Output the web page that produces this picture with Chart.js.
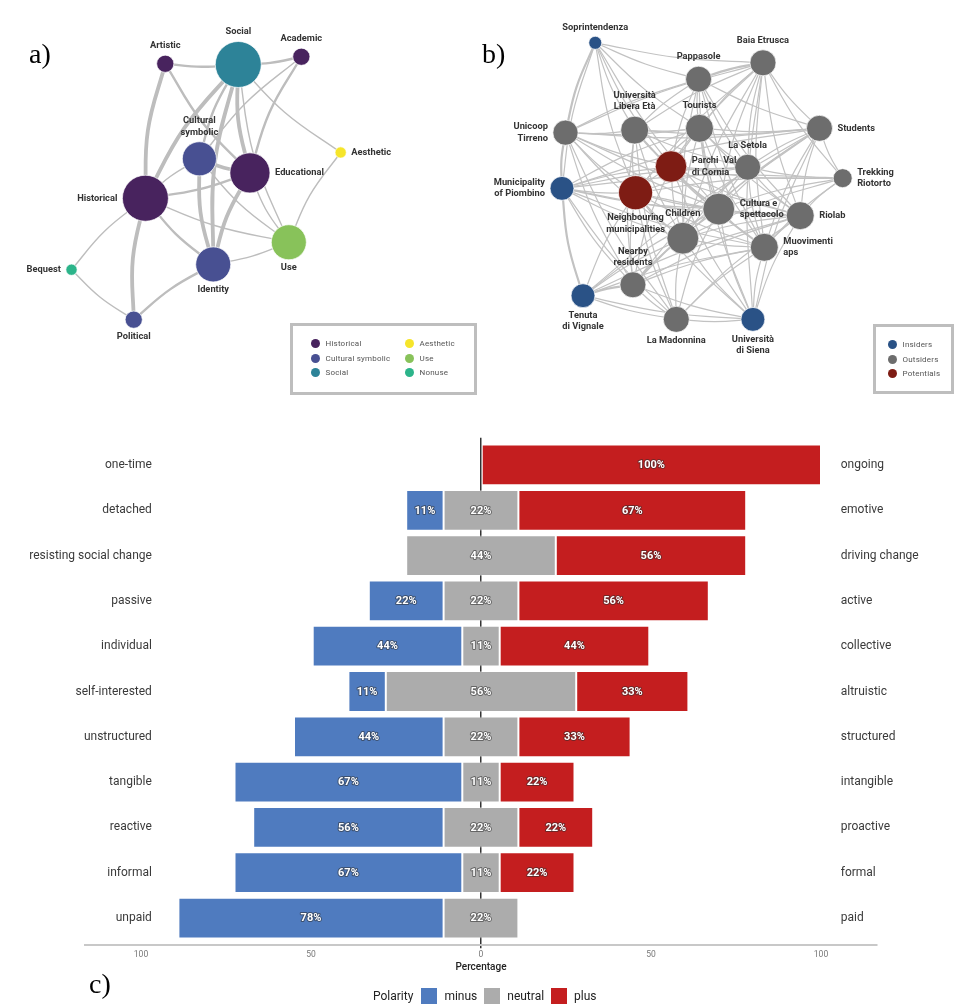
<!DOCTYPE html>
<html>
<head>
<meta charset="utf-8">
<title>Heritage values, stakeholders and volunteering polarity</title>
<script src="https://cdn.jsdelivr.net/npm/chart.js@4.4.1/dist/chart.umd.min.js"></script>
<style>
  html, body { margin: 0; padding: 0; background: #fff; }
  body { position: relative; width: 954px; height: 1008px; overflow: hidden; font-family: Roboto, "DejaVu Sans", sans-serif; }
  canvas { position: absolute; display: block; }
  #netA { left: 0; top: 0; }
  #netB { left: 480px; top: 0; }
  #bars { left: 0; top: 420px; }
  .tag { position: absolute; font-family: "Liberation Serif", "DejaVu Serif", serif; font-size: 28px; line-height: 28px; color: #000; }
  .box { position: absolute; box-sizing: border-box; border: 3px solid #bebebe; }
  .key { position: absolute; font-size: 8px; line-height: 10px; color: #555; letter-spacing: 0.2px; white-space: nowrap; }
  .key i { display: inline-block; width: 9px; height: 9px; border-radius: 50%; margin-right: 6px; vertical-align: -2px; }
  #polarity { position: absolute; left: 373px; top: 988px; height: 16px; display: flex; align-items: center; font-size: 12px; color: #222; white-space: nowrap; }
  #polarity .sw { display: inline-block; width: 16px; height: 16px; margin-right: 7px; }
  #polarity .lab { margin-right: 7px; }
  #polarity .ttl { margin-right: 8px; }
</style>
</head>
<body>
<canvas id="netA" width="480" height="400"></canvas>
<canvas id="netB" width="474" height="400"></canvas>
<canvas id="bars" width="954" height="588"></canvas>
<div class="tag" style="left:29px;top:40px">a)</div>
<div class="tag" style="left:482px;top:40px">b)</div>
<div class="tag" style="left:89px;top:970px">c)</div>
<div class="box" style="left:290px;top:323px;width:187px;height:72px"></div>
<div class="box" style="left:873px;top:324px;width:81px;height:70px"></div>
<div id="keyA"></div>
<div id="keyB"></div>
<div id="polarity"></div>
<script>
// ---------- a) network of heritage values ----------
const valueNodes = ['Artistic', 'Social', 'Academic', 'Cultural\nsymbolic', 'Educational', 'Aesthetic',
  'Historical', 'Use', 'Identity', 'Bequest', 'Political'];
const valueGroup = ['Historical', 'Social', 'Historical', 'Cultural symbolic', 'Historical', 'Aesthetic',
  'Historical', 'Use', 'Cultural symbolic', 'Nonuse', 'Cultural symbolic'];
const valueX = [32.7, 49.6, 64.2, 40.6, 52.3, 73.3, 28.1, 61.3, 43.8, 11.0, 25.4];
const valueY = [11.3, 11.5, 9.3, 38.3, 42.3, 36.5, 49.5, 62.0, 68.3, 69.8, 84.0];
const valueStrength = [14, 100, 14, 55, 76, 6, 100, 58, 58, 6, 14];
const valueLinks = [
  ['Artistic', 'Social', 2], ['Social', 'Academic', 2], ['Artistic', 'Historical', 3], ['Artistic', 'Educational', 2],
  ['Social', 'Historical', 3], ['Social', 'Cultural symbolic', 2], ['Social', 'Educational', 3], ['Social', 'Identity', 3],
  ['Social', 'Use', 1], ['Social', 'Aesthetic', 1], ['Academic', 'Cultural symbolic', 1], ['Academic', 'Educational', 2],
  ['Cultural symbolic', 'Educational', 3], ['Cultural symbolic', 'Historical', 1], ['Cultural symbolic', 'Identity', 3],
  ['Cultural symbolic', 'Use', 1], ['Historical', 'Educational', 2], ['Historical', 'Identity', 2], ['Historical', 'Use', 1],
  ['Historical', 'Bequest', 1], ['Historical', 'Political', 3], ['Educational', 'Identity', 3], ['Educational', 'Use', 1],
  ['Aesthetic', 'Use', 1], ['Identity', 'Use', 1], ['Identity', 'Political', 2], ['Bequest', 'Political', 1]
];
const valueGroups = ['Historical', 'Cultural symbolic', 'Social', 'Aesthetic', 'Use', 'Nonuse'];

// ---------- b) network of stakeholders ----------
const actorNodes = ['Soprintendenza', 'Baia Etrusca', 'Pappasole', 'Unicoop\nTirreno', 'Università\nLibera Età',
  'Tourists', 'Students', 'Parchi  Val\ndi Cornia', 'La Setola', 'Trekking\nRiotorto', 'Municipality\nof Piombino',
  'Neighbouring\nmunicipalities', 'Cultura e\nspettacolo', 'Riolab', 'Children', 'Muovimenti\naps',
  'Nearby\nresidents', 'Tenuta\ndi Vignale', 'La Madonnina', 'Università\ndi Siena'];
const actorCode = ['SO', 'BE', 'PA', 'UT', 'UL', 'TO', 'ST', 'PV', 'LS', 'TR', 'MP', 'NM', 'CS', 'RI', 'CH', 'MU', 'NR', 'TV', 'LM', 'US'];
const actorGroup = ['Insiders', 'Outsiders', 'Outsiders', 'Outsiders', 'Outsiders', 'Outsiders', 'Outsiders', 'Potentials',
  'Outsiders', 'Outsiders', 'Insiders', 'Potentials', 'Outsiders', 'Outsiders', 'Outsiders', 'Outsiders', 'Outsiders',
  'Insiders', 'Outsiders', 'Insiders'];
const actorX = [22.2, 60.5, 45.8, 15.4, 31.2, 46.0, 73.4, 39.5, 57.0, 78.7, 14.6, 31.4, 50.4, 69.0, 42.2, 60.8, 30.8, 19.4, 40.7, 58.2];
const actorY = [6.8, 12.3, 16.8, 31.5, 30.8, 30.3, 30.3, 40.8, 41.0, 44.0, 46.8, 48.0, 52.5, 54.3, 60.5, 63.0, 73.3, 76.3, 82.8, 82.8];
const actorStrength = [8, 32, 32, 30, 37, 37, 32, 47, 32, 17, 27, 55, 48, 37, 48, 37, 32, 27, 32, 27];
const actorLinks = [
  'SO: BE PA UT UL TO PV NM MP CS',
  'BE: PA UL TO UT ST LS TR CS RI CH MU PV NM US',
  'PA: UT UL TO ST LS CS CH MU PV RI',
  'UT: UL TO ST MP NM PV CS CH NR RI LM',
  'UL: TO ST PV NM CS CH NR MU LM LS',
  'TO: ST PV LS CS CH RI MU NM MP US',
  'ST: LS TR RI MU CS CH NR US MP TV',
  'PV: LS TR NM CS CH RI MP NR US MU',
  'LS: TR CS RI CH NM MP MU NR',
  'TR: RI MU CS MP NM CH',
  'MP: NM CS CH NR TV RI MU LM',
  'NM: CS CH RI MU NR TV LM US',
  'CS: RI CH MU NR TV LM US',
  'RI: CH MU NR TV LM US',
  'CH: MU NR TV LM US',
  'MU: NR TV LM US',
  'NR: TV LM US',
  'TV: LM US',
  'LM: US'
];
const actorStrongLinks = ['SO-UT', 'UT-MP', 'MP-TV', 'BE-PA', 'NR-TV'];
const actorGroups = ['Insiders', 'Outsiders', 'Potentials'];

// ---------- c) polarity of volunteering traits ----------
const leftPole = ['one-time', 'detached', 'resisting social change', 'passive', 'individual', 'self-interested',
  'unstructured', 'tangible', 'reactive', 'informal', 'unpaid'];
const rightPole = ['ongoing', 'emotive', 'driving change', 'active', 'collective', 'altruistic',
  'structured', 'intangible', 'proactive', 'formal', 'paid'];
const minusPct = [0, 11, 0, 22, 44, 11, 44, 67, 56, 67, 78];
const neutralPct = [0, 22, 44, 22, 11, 56, 22, 11, 22, 11, 22];
const plusPct = [100, 67, 56, 56, 44, 33, 33, 22, 22, 22, 0];
const pctTicks = [-100, -50, 0, 50, 100];
const polarityNames = ['minus', 'neutral', 'plus'];

// ---------- styles ----------
const valueColors = { 'Historical': '#48235e', 'Cultural symbolic': '#485092', 'Social': '#2d8398',
  'Aesthetic': '#f6e52a', 'Use': '#88c25a', 'Nonuse': '#2cb48a' };
const actorColors = { 'Insiders': '#2a5286', 'Outsiders': '#6d6d6d', 'Potentials': '#7e1c14' };
const polarityColors = ['#4f7bbf', '#acacac', '#c41e1f'];
const valueLabelSide = ['top', 'top', 'top', 'top', 'right', 'right', 'left', 'bottom', 'bottom', 'left', 'bottom'];
const actorLabelSide = ['top', 'top', 'top', 'left', 'top', 'top', 'right', 'right', 'top', 'right', 'left', 'bottom',
  'right', 'right', 'top', 'right', 'top', 'bottom', 'bottom', 'bottom'];

const radiusOf = s => 2.3 * Math.sqrt(s);

// node captions placed around each bubble
function nodeLabelPlugin(net, style) {
  return {
    id: 'nodeLabels',
    afterDatasetsDraw(chart) {
      const { ctx, scales: { x, y } } = chart;
      ctx.save();
      ctx.font = style.font;
      ctx.fillStyle = '#333';
      ctx.textBaseline = 'middle';
      const lh = style.lineHeight;
      net.names.forEach((name, i) => {
        const lines = name.split('\n');
        const cx = x.getPixelForValue(net.xs[i]);
        const cy = y.getPixelForValue(net.ys[i]);
        const r = radiusOf(net.strength[i]);
        const side = net.sides[i];
        lines.forEach((ln, k) => {
          let tx = cx, ty;
          if (side === 'top') { ctx.textAlign = 'center'; ty = cy - r - style.gapTop - (lines.length - 1 - k) * lh; }
          else if (side === 'bottom') { ctx.textAlign = 'center'; ty = cy + r + style.gapBottom + k * lh; }
          else if (side === 'left') { ctx.textAlign = 'right'; tx = cx - r - style.gapSide; ty = cy + (k - (lines.length - 1) / 2) * lh; }
          else { ctx.textAlign = 'left'; tx = cx + r + style.gapSide; ty = cy + (k - (lines.length - 1) / 2) * lh; }
          ctx.fillText(ln, tx, ty);
        });
      });
      ctx.restore();
    }
  };
}

function buildNetwork(canvasId, net, style) {
  const edges = net.links.map(([i, j, w]) => {
    const x1 = net.xs[i], y1 = net.ys[i], x2 = net.xs[j], y2 = net.ys[j];
    const mid = { x: (x1 + x2) / 2 - (y2 - y1) * style.bend, y: (y1 + y2) / 2 + (x2 - x1) * style.bend };
    return {
      type: 'line', data: [{ x: x1, y: y1 }, mid, { x: x2, y: y2 }],
      borderColor: style.edgeColor, borderWidth: style.edgeWidth[w], tension: 0.4,
      pointRadius: 0, pointHoverRadius: 0, pointHitRadius: 0, fill: false, order: 1, clip: false
    };
  });
  const nodes = {
    type: 'bubble',
    data: net.names.map((n, i) => ({ x: net.xs[i], y: net.ys[i], r: radiusOf(net.strength[i]) })),
    backgroundColor: net.groups.map(g => style.colors[g]),
    borderColor: 'rgba(255,255,255,0.7)', borderWidth: 1, hoverRadius: 0, order: 0, clip: false
  };
  return new Chart(document.getElementById(canvasId), {
    type: 'bubble',
    data: { datasets: [nodes, ...edges] },
    options: {
      responsive: false, animation: false, events: [],
      layout: { padding: 0 },
      plugins: { legend: { display: false }, tooltip: { enabled: false } },
      scales: {
        x: { type: 'linear', min: 0, max: 100, display: false },
        y: { type: 'linear', min: 0, max: 100, reverse: true, display: false }
      }
    },
    plugins: [nodeLabelPlugin(net, style)]
  });
}

// a)
const valueKey = valueNodes.map(n => n.replace('\n', ' '));
buildNetwork('netA', {
  names: valueNodes, groups: valueGroup, xs: valueX, ys: valueY, strength: valueStrength, sides: valueLabelSide,
  links: valueLinks.map(([a, b, w]) => [valueKey.indexOf(a), valueKey.indexOf(b), w])
}, {
  colors: valueColors, edgeColor: '#bdbdbd', edgeWidth: { 1: 1.4, 2: 2.4, 3: 3.8 }, bend: 0.045,
  font: 'bold 9.3px Roboto, "DejaVu Sans", sans-serif', lineHeight: 11.5, gapTop: 9.5, gapBottom: 8, gapSide: 5
});

// b)
const actorPairs = [];
actorLinks.forEach(row => {
  const [from, rest] = row.split(':');
  rest.trim().split(/\s+/).forEach(to => {
    const strong = actorStrongLinks.includes(from + '-' + to) || actorStrongLinks.includes(to + '-' + from);
    actorPairs.push([actorCode.indexOf(from), actorCode.indexOf(to), strong ? 2 : 1]);
  });
});
buildNetwork('netB', {
  names: actorNodes, groups: actorGroup, xs: actorX, ys: actorY, strength: actorStrength, sides: actorLabelSide,
  links: actorPairs
}, {
  colors: actorColors, edgeColor: '#c2c2c2', edgeWidth: { 1: 1.2, 2: 2.2 }, bend: 0.035,
  font: 'bold 9.3px Roboto, "DejaVu Sans", sans-serif', lineHeight: 11.5, gapTop: 9, gapBottom: 8, gapSide: 5
});

// legends of the two networks
function buildKey(el, groups, colors, cols, rows) {
  el.innerHTML = groups.map((g, i) => {
    const c = Math.floor(i / rows.length), r = i % rows.length;
    return '<div class="key" style="left:' + cols[c] + 'px;top:' + rows[r] + 'px"><i style="background:' + colors[g] + '"></i>' + g + '</div>';
  }).join('');
}
buildKey(document.getElementById('keyA'), valueGroups, valueColors, [310.5, 404.5], [339, 354, 368]);
buildKey(document.getElementById('keyB'), actorGroups, actorColors, [887.5], [340, 355, 369]);

// c) diverging stacked bars, neutral share centred on zero
const rows = leftPole.map((_, i) => i);
const minusData = [], neutralData = [], plusData = [];
rows.forEach(i => {
  const h = neutralPct[i] / 2;
  if (minusPct[i] > 0) minusData.push({ y: i, x: [-h - minusPct[i], -h], v: minusPct[i] });
  if (neutralPct[i] > 0) neutralData.push({ y: i, x: [-h, h], v: neutralPct[i] });
  if (plusPct[i] > 0) plusData.push({ y: i, x: [h, h + plusPct[i]], v: plusPct[i] });
});

const LEFT_LABEL_AT = -96.8;
const RIGHT_LABEL_AT = 105.8;

const barText = {
  id: 'barText',
  afterDatasetsDraw(chart) {
    const { ctx, scales: { x, y } } = chart;
    ctx.save();
    ctx.textBaseline = 'middle';
    ctx.font = '12px Roboto, "DejaVu Sans", sans-serif';
    ctx.fillStyle = '#3a3a3a';
    leftPole.forEach((t, i) => {
      ctx.textAlign = 'right';
      ctx.fillText(t, x.getPixelForValue(LEFT_LABEL_AT), y.getPixelForValue(i));
    });
    rightPole.forEach((t, i) => {
      ctx.textAlign = 'left';
      ctx.fillText(t, x.getPixelForValue(RIGHT_LABEL_AT), y.getPixelForValue(i));
    });
    ctx.font = 'bold 11px Roboto, "DejaVu Sans", sans-serif';
    ctx.textAlign = 'center';
    ctx.lineJoin = 'round';
    chart.data.datasets.forEach((ds, d) => {
      chart.getDatasetMeta(d).data.forEach((bar, k) => {
        const p = bar.getProps(['x', 'base', 'y'], true);
        const txt = ds.data[k].v + '%';
        const tx = (p.x + p.base) / 2, ty = p.y + 0.5;
        ctx.strokeStyle = 'rgba(45,45,45,0.55)';
        ctx.lineWidth = 2;
        ctx.strokeText(txt, tx, ty);
        ctx.fillStyle = '#fff';
        ctx.fillText(txt, tx, ty);
      });
    });
    ctx.restore();
  }
};

const zeroColor = c => (c.tick && c.tick.value === 0 ? '#333' : 'rgba(0,0,0,0)');
const barStyle = { grouped: false, categoryPercentage: 1, barPercentage: 0.9, borderWidth: 1,
  borderColor: 'rgba(255,255,255,0.35)', borderSkipped: false };

new Chart(document.getElementById('bars'), {
  type: 'bar',
  data: {
    datasets: [
      Object.assign({ label: polarityNames[0], data: minusData, backgroundColor: polarityColors[0] }, barStyle),
      Object.assign({ label: polarityNames[1], data: neutralData, backgroundColor: polarityColors[1] }, barStyle),
      Object.assign({ label: polarityNames[2], data: plusData, backgroundColor: polarityColors[2] }, barStyle)
    ]
  },
  options: {
    responsive: false, animation: false, events: [], indexAxis: 'y',
    layout: { padding: { left: 84.9, right: 76.9, top: 17.8, bottom: 35 } },
    plugins: { legend: { display: false }, tooltip: { enabled: false } },
    scales: {
      x: {
        type: 'linear', min: -116.5, max: 116.5,
        afterBuildTicks: s => { s.ticks = pctTicks.map(v => ({ value: v })); },
        afterFit: s => { s.height = 27.8; },
        grid: { color: zeroColor, lineWidth: 1.5, drawTicks: true, tickLength: 3, tickColor: zeroColor, tickWidth: 1.5 },
        border: { display: true, color: '#c8c8c8', width: 2 },
        ticks: { callback: v => Math.abs(v), font: { family: 'Roboto', size: 8.5 }, color: '#777', padding: 2,
          maxRotation: 0, autoSkip: false },
        title: { display: true, text: 'Percentage', font: { family: 'Roboto', size: 10, weight: '500' }, color: '#222', padding: 0 }
      },
      y: {
        type: 'linear', min: -0.6, max: 10.6, reverse: true, display: false, offset: false,
        afterBuildTicks: s => { s.ticks = rows.map(i => ({ value: i })); }
      }
    }
  },
  plugins: [barText]
});

// legend of c)
document.getElementById('polarity').innerHTML = '<span class="ttl">Polarity</span>' +
  polarityNames.map((n, i) => '<span class="sw" style="background:' + polarityColors[i] + '"></span><span class="lab">' + n + '</span>').join('');
</script>
</body>
</html>
